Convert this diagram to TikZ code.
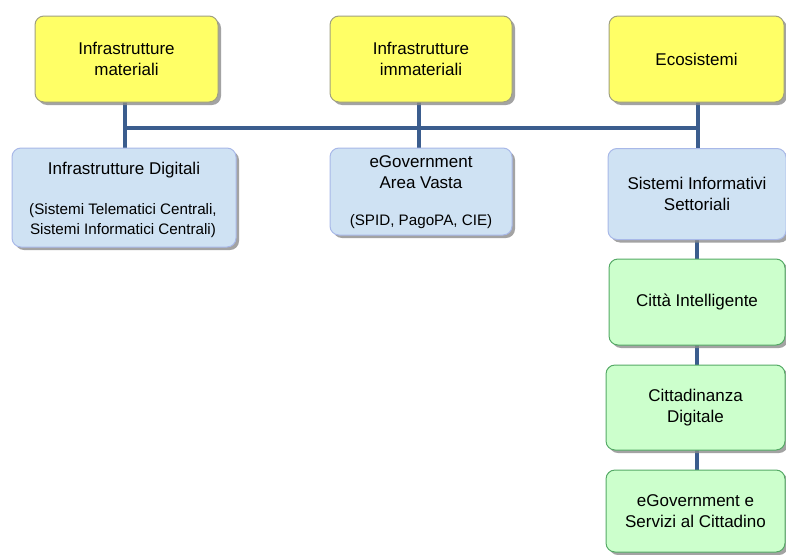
\documentclass[tikz,border=0pt]{standalone}
\usepackage{fontspec}
\setmainfont{Liberation Sans}
\usetikzlibrary{shadows}
\definecolor{yfill}{HTML}{FFFF66}
\definecolor{yline}{HTML}{A0A080}
\definecolor{bfill}{HTML}{CFE2F3}
\definecolor{bline}{HTML}{A8B8E8}
\definecolor{gfill}{HTML}{CCFFCC}
\definecolor{gline}{HTML}{55AA66}
\definecolor{conn}{HTML}{3B5D8E}
\begin{document}
\begin{tikzpicture}[x=1pt,y=-1pt,
  box/.style={rounded corners=9pt, line width=1pt, align=center, inner sep=0pt,
     drop shadow={shadow xshift=3pt, shadow yshift=-3pt, fill=black!45, opacity=0.8},
     font=\fontsize{17}{21}\selectfont},
  ybox/.style={box, fill=yfill, draw=yline},
  bbox/.style={box, fill=bfill, draw=bline},
  gbox/.style={box, fill=gfill, draw=gline},
  conline/.style={draw=conn, line width=4pt}]
\useasboundingbox (0,0) rectangle (786,554);
% connectors first
\coordinate (busL) at (125,128);
\coordinate (busR) at (698,128);
\draw[conline] (125,102) -- (125,148);
\draw[conline] (419,102) -- (419,148);
\draw[conline] (698,102) -- (698,148);
\draw[conline] (busL) -- (busR);
\draw[conline] (697,240) -- (697,470);
% yellow
\node[ybox, minimum width=183pt, minimum height=86pt] (y1) at (126.5,59) {Infrastrutture\\materiali};
\node[ybox, minimum width=182pt, minimum height=86pt] (y2) at (421,59) {Infrastrutture\\immateriali};
\node[ybox, minimum width=175pt, minimum height=86pt] (y3) at (696.5,59) {Ecosistemi};
% blue
\node[bbox, minimum width=224pt, minimum height=99pt] (b1) at (124,197.5) {};
\node[font=\fontsize{17}{21}\selectfont] (b1t) at (124,170) {Infrastrutture Digitali};
\node[font=\fontsize{15.2}{20}\selectfont, align=center] (b1s) at (123,221) {(Sistemi Telematici Centrali,\\Sistemi Informatici Centrali)};
\node[bbox, minimum width=182pt, minimum height=87pt] (b2) at (421,191.5) {};
\node[font=\fontsize{17}{21}\selectfont, align=center] (b2t) at (421,172) {eGovernment\\Area Vasta};
\node[font=\fontsize{15.2}{20}\selectfont] (b2s) at (421,222) {(SPID, PagoPA, CIE)};
\node[bbox, minimum width=178pt, minimum height=91pt] (b3) at (697,194) {Sistemi Informativi\\Settoriali};
% green
\node[gbox, minimum width=176pt, minimum height=86pt] (g1) at (697,302) {Città Intelligente};
\node[gbox, minimum width=179pt, minimum height=85pt] (g2) at (695.5,407.5) {Cittadinanza\\Digitale};
\node[gbox, minimum width=179pt, minimum height=82pt] (g3) at (695.5,511) {eGovernment e\\Servizi al Cittadino};
\end{tikzpicture}
\end{document}
